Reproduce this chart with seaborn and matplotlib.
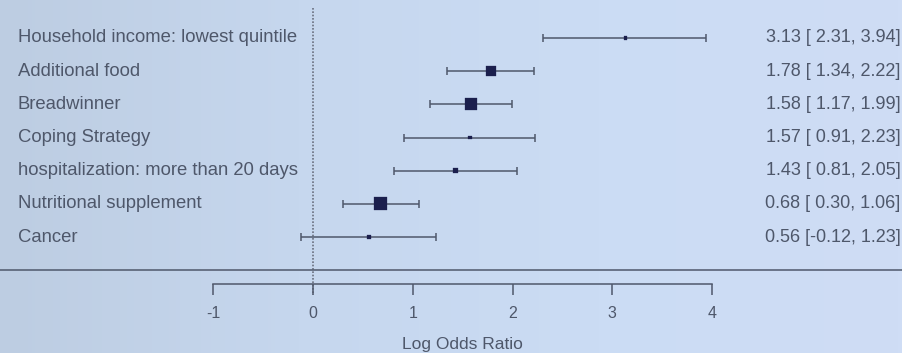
import numpy as np
import pandas as pd
import seaborn as sns
import matplotlib.pyplot as plt
from matplotlib.colors import LinearSegmentedColormap

labels = [
    "Household income: lowest quintile",
    "Additional food",
    "Breadwinner",
    "Coping Strategy",
    "hospitalization: more than 20 days",
    "Nutritional supplement",
    "Cancer",
]
estimates = [3.13, 1.78, 1.58, 1.57, 1.43, 0.68, 0.56]
lower = [2.31, 1.34, 1.17, 0.91, 0.81, 0.30, -0.12]
upper = [3.94, 2.22, 1.99, 2.23, 2.05, 1.06, 1.23]
weights = [5, 52, 75, 8, 13, 88, 8]
ticks = [-1, 0, 1, 2, 3, 4]

bg = "#c9d9ef"
text_col = "#4e576a"
line_col = "#4f586b"
box_col = "#1b1f4d"

df = pd.DataFrame({"label": labels, "est": estimates, "lo": lower, "hi": upper, "w": weights})
df["row"] = np.arange(len(df))

sns.set_style("white")
plt.rcParams["font.family"] = ["Liberation Sans", "DejaVu Sans"]
plt.rcParams["axes.unicode_minus"] = False

fig = plt.figure(figsize=(9.02, 3.53), dpi=100, facecolor=bg)
ax = fig.add_axes([0, 0, 1, 1])
ax.set_facecolor(bg)

# pixel mapping: x=0 at 313px, 1 unit ~ 99.75px; rows start at 38px, 33.17px apart
ux = 99.75
uy = 33.17
x0, x1 = -313 / ux, (902 - 313) / ux
y0, y1 = (353 - 38) / uy, -38 / uy
ax.set_xlim(x0, x1)
ax.set_ylim(y0, y1)
ax.axis("off")

# soft background shading like the photo (grey-blue left, lighter right)
cmap = LinearSegmentedColormap.from_list("bg", ["#bdcde2", "#c6d7ee", "#cbdcf4", "#cfddf5"])
ax.imshow(np.linspace(0, 1, 256)[None, :], cmap=cmap, aspect="auto",
          extent=[x0, x1, y0, y1], zorder=0)
ax.set_xlim(x0, x1)
ax.set_ylim(y0, y1)

# null line
ax.plot([0, 0], [-30 / uy, (295 - 38) / uy], ls=(0, (1, 1)), color="#6a7080", lw=1.2)

# confidence intervals
ax.errorbar(df["est"], df["row"], xerr=[df["est"] - df["lo"], df["hi"] - df["est"]],
            fmt="none", ecolor=line_col, elinewidth=1.1, capsize=3, capthick=1.1)

sns.scatterplot(data=df, x="est", y="row", size="w", sizes=(5, 88), marker="s",
                color=box_col, edgecolor=box_col, legend=False, ax=ax, zorder=3)

for r, lab, e, lo, hi in zip(df["row"], labels, estimates, lower, upper):
    ax.text(-2.96, r, lab, ha="left", va="center", fontsize=13.3, color=text_col)
    ax.text(5.89, r, f"{e:.2f} [{lo:5.2f}, {hi:.2f}]", ha="right", va="center",
            fontsize=13, color=text_col)

# separator line
ax.axhline((270 - 38) / uy, color=line_col, lw=1.1)

# bottom axis
ax2 = fig.add_axes([(313 - ux) / 902, (353 - 284) / 353, 5 * ux / 902, 0.001])
ax2.set_facecolor("none")
ax2.set_xlim(ticks[0], ticks[-1])
ax2.set_yticks([])
for s in ["top", "left", "right"]:
    ax2.spines[s].set_visible(False)
ax2.spines["bottom"].set_color(line_col)
ax2.spines["bottom"].set_linewidth(1.1)
ax2.set_xticks(ticks)
ax2.tick_params(axis="x", bottom=True, direction="out", length=8, width=1.1, color=line_col,
                labelcolor=text_col, labelsize=11.5, pad=8)
ax2.set_xlabel("Log Odds Ratio", fontsize=12.5, color=text_col, labelpad=11)

fig.savefig("out.png", dpi=100, facecolor=bg)
